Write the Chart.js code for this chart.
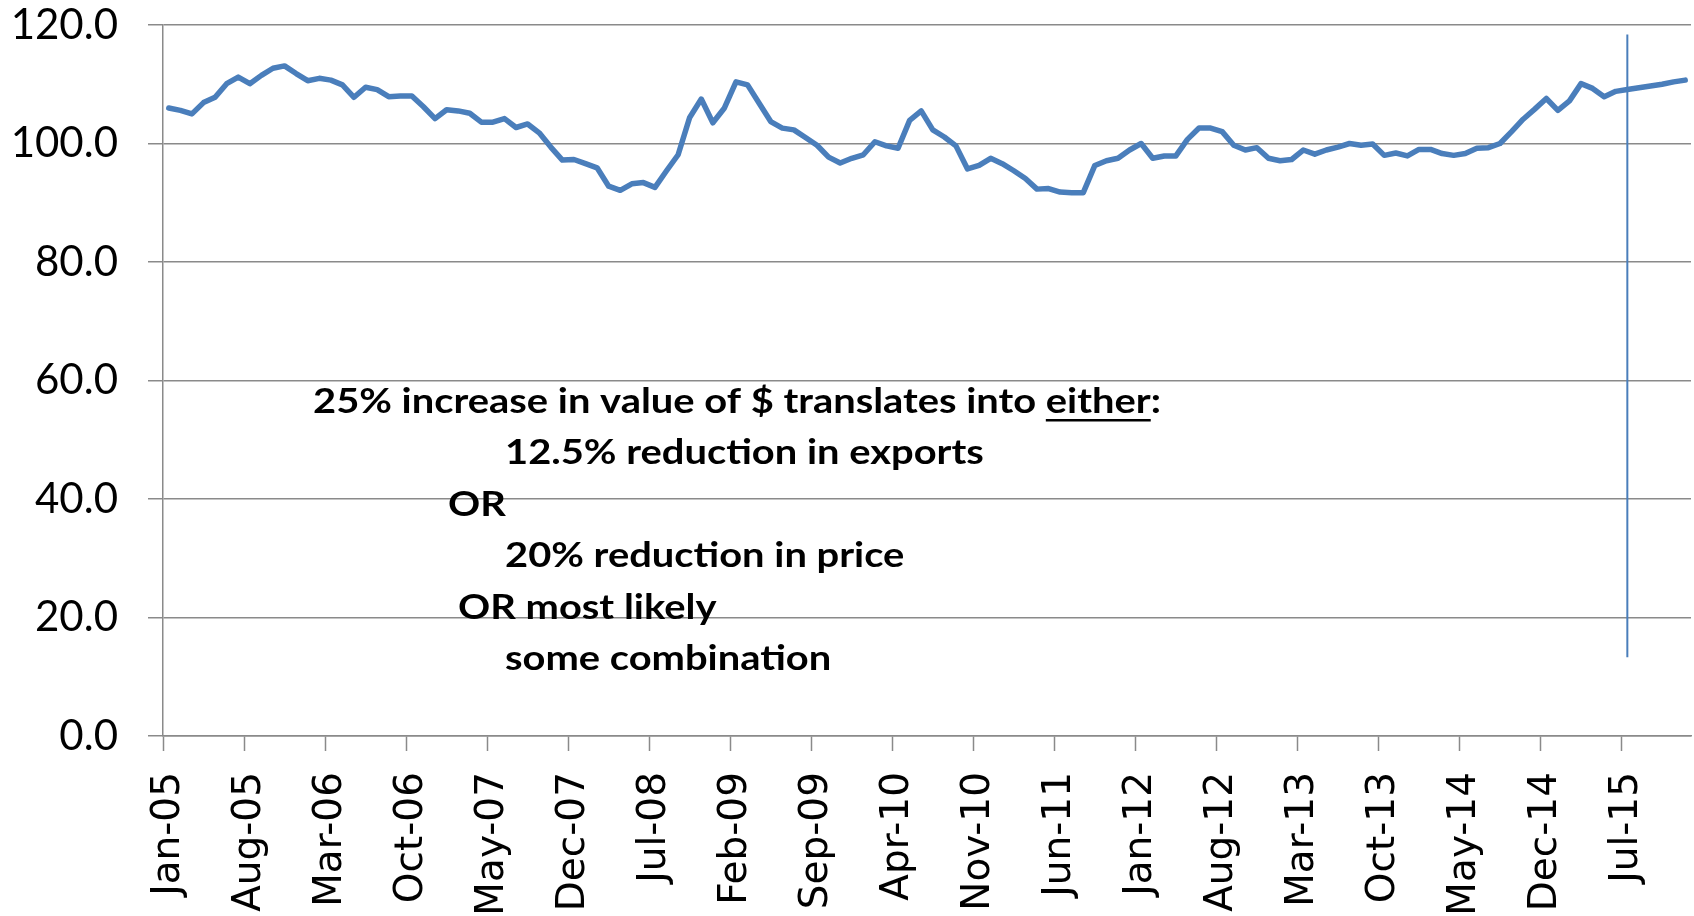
<!DOCTYPE html>
<html>
<head>
<meta charset="utf-8">
<script src="https://cdn.jsdelivr.net/npm/chart.js@4.4.1/dist/chart.umd.min.js"></script>
<style>
  html, body { margin: 0; padding: 0; background: #fff; }
  canvas { display: block; }
</style>
</head>
<body>
<canvas id="chart" width="1694" height="916"></canvas>
<script>
// month labels Jan-05 .. Dec-15
const monthNames = ['Jan','Feb','Mar','Apr','May','Jun','Jul','Aug','Sep','Oct','Nov','Dec'];
const years = ['05','06','07','08','09','10','11','12','13','14','15'];
const labels = [];
years.forEach(function (y) {
  monthNames.forEach(function (m) { labels.push(m + '-' + y); });
});

// index values (one row per year)
const values = [
  106.0, 105.6, 105.0, 106.9, 107.8, 110.1, 111.2, 110.1, 111.5, 112.7, 113.1, 111.8,
  110.6, 111.0, 110.7, 109.9, 107.8, 109.5, 109.1, 107.9, 108.0, 108.0, 106.2, 104.2,
  105.7, 105.5, 105.1, 103.6, 103.6, 104.2, 102.7, 103.3, 101.8, 99.4, 97.2, 97.3,
  96.6, 95.9, 92.8, 92.1, 93.2, 93.4, 92.6, 95.4, 98.1, 104.4, 107.5, 103.5,
  106.0, 110.4, 109.9, 106.8, 103.7, 102.6, 102.3, 101.0, 99.7, 97.7, 96.7, 97.5,
  98.1, 100.3, 99.6, 99.2, 103.9, 105.5, 102.3, 101.1, 99.6, 95.7, 96.3, 97.5,
  96.6, 95.4, 94.1, 92.3, 92.4, 91.8, 91.7, 91.7, 96.3, 97.1, 97.5, 98.9,
  100.0, 97.5, 97.9, 97.9, 100.7, 102.6, 102.6, 102.0, 99.7, 98.9, 99.3, 97.5,
  97.1, 97.3, 98.9, 98.2, 98.9, 99.4, 100.0, 99.7, 99.9, 98.0, 98.4, 97.9,
  99.0, 99.0, 98.3, 98.0, 98.3, 99.2, 99.3, 100.0, 102.0, 104.1, 105.8, 107.6,
  105.6, 107.2, 110.1, 109.3, 107.9, 108.8, 109.1, 109.4, 109.7, 110.0, 110.4, 110.7
];

const yTicks = [0, 20, 40, 60, 80, 100, 120];
const tickEvery = 7;

// vertical marker at Jul-15
const markerLabel = 'Jul-15';
const markerRange = [13.3, 118.4];

// annotation text lines, and indent of each line
const noteLines = [
  '25% increase in value of $ translates into either:',
  '12.5% reduction in exports',
  'OR',
  '20% reduction in price',
  'OR most likely',
  'some combination'
];
const noteIndent = [0, 192, 135, 192, 145, 192];

const blue = '#4a7ebb';
const gray = '#8a8a8a';

const markerPlugin = {
  id: 'marker',
  afterDatasetsDraw: function (chart) {
    const xs = chart.scales.x, ys = chart.scales.y;
    const x = xs.getPixelForValue(labels.indexOf(markerLabel));
    const ctx = chart.ctx;
    ctx.save();
    ctx.strokeStyle = blue;
    ctx.lineWidth = 2;
    ctx.beginPath();
    ctx.moveTo(x, ys.getPixelForValue(markerRange[1]));
    ctx.lineTo(x, ys.getPixelForValue(markerRange[0]));
    ctx.stroke();
    ctx.restore();
  }
};

const notePlugin = {
  id: 'note',
  afterDraw: function (chart) {
    const ctx = chart.ctx;
    ctx.save();
    ctx.font = 'bold 34px Lato';
    ctx.fillStyle = '#000';
    ctx.textBaseline = 'alphabetic';
    const sx = 848 / ctx.measureText(noteLines[0]).width;
    const left = 313, top = 413, step = 51.4;
    ctx.translate(left, 0);
    ctx.scale(sx, 1);
    noteLines.forEach(function (t, k) {
      ctx.fillText(t, noteIndent[k] / sx, top + k * step);
    });
    // underline "either"
    const pre = ctx.measureText('25% increase in value of $ translates into ').width;
    const w = ctx.measureText('either').width;
    ctx.fillRect(pre, top + 6, w, 2.5);
    ctx.restore();
  }
};

new Chart(document.getElementById('chart'), {
  type: 'line',
  data: {
    labels: labels,
    datasets: [{
      data: values,
      borderColor: blue,
      borderWidth: 5.5,
      pointRadius: 0,
      tension: 0,
      borderJoinStyle: 'round',
      borderCapStyle: 'round'
    }]
  },
  options: {
    responsive: false,
    animation: false,
    layout: { padding: { top: 0, right: 3, left: 0, bottom: 0 } },
    plugins: {
      legend: { display: false },
      tooltip: { enabled: false }
    },
    scales: {
      x: {
        offset: true,
        afterFit: function (s) {
          s.height = 180;
          s.paddingLeft = 0;
          s.paddingRight = 0;
        },
        grid: {
          offset: true,
          drawOnChartArea: false,
          drawTicks: true,
          tickLength: 15,
          tickWidth: 1.5,
          tickColor: function (c) { return c.index % tickEvery === 0 ? gray : 'rgba(0,0,0,0)'; }
        },
        border: { color: gray, width: 1.5 },
        ticks: {
          autoSkip: false,
          maxRotation: 90,
          minRotation: 90,
          padding: 21,
          color: '#000',
          font: { family: 'DejaVu Sans', size: 39 },
          callback: function (v, i) { return i % tickEvery === 0 ? labels[i] : ''; }
        }
      },
      y: {
        min: yTicks[0],
        max: yTicks[yTicks.length - 1],
        afterFit: function (s) {
          s.width = 163;
          s.paddingTop = 25;
          s.paddingBottom = 0;
        },
        grid: { color: gray, lineWidth: 1.5, tickLength: 15 },
        border: { color: gray, width: 1.5 },
        ticks: {
          stepSize: 20,
          padding: 30,
          color: '#000',
          font: { family: 'Lato', size: 42 },
          callback: function (v) { return v.toFixed(1); }
        }
      }
    }
  },
  plugins: [markerPlugin, notePlugin]
});
</script>
</body>
</html>
